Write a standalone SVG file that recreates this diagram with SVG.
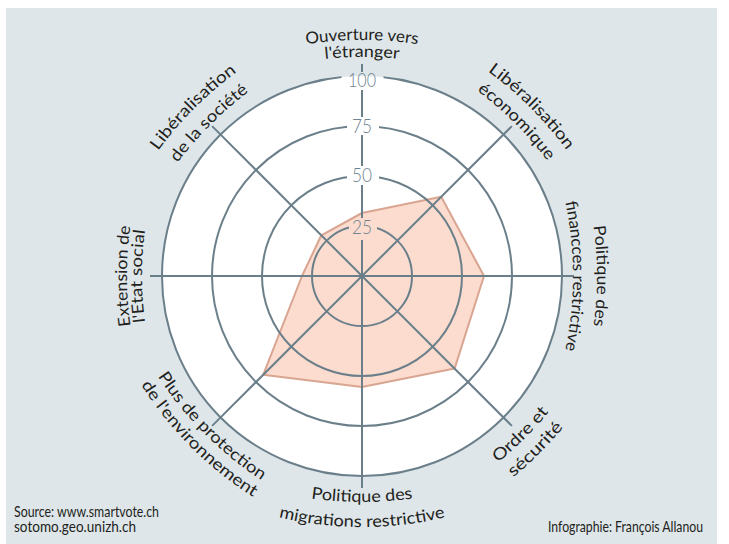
<svg xmlns="http://www.w3.org/2000/svg" width="729" height="544" viewBox="0 0 729 544">
<style>
.grid{fill:none;stroke:#6b7f8a;stroke-width:2}
.lbl{font-family:Lato,"Liberation Sans",sans-serif;font-size:16.5px;fill:#231f20}
.ring{font-family:Lato,"Liberation Sans",sans-serif;font-size:20px;font-weight:300;fill:#6f8490;text-anchor:middle}
.cred{font-family:Lato,"Liberation Sans",sans-serif;font-size:15px;fill:#231f20}
</style>
<defs>
<mask id="gm" maskUnits="userSpaceOnUse" x="0" y="0" width="729" height="544">
<rect x="0" y="0" width="729" height="544" fill="#fff"/>
<rect x="341.5" y="72" width="42" height="18" fill="#000"/>
<rect x="347" y="117" width="32" height="18" fill="#000"/>
<rect x="347" y="166" width="32" height="19" fill="#000"/>
<rect x="349" y="218" width="28" height="22" fill="#000"/>
</mask>
<path id="p1a" d="M238.87,61.71 A360,360 0 0 1 485.13,61.71"/>
<path id="p1b" d="M238.87,78.71 A360,360 0 0 1 485.13,78.71"/>
<path id="p2a" d="M427.87,36 A360,360 0 0 1 602,210.13"/>
<path id="p2b" d="M412.32,51.55 A360,360 0 0 1 586.45,225.68"/>
<path id="p3a" d="M575.29,152.87 A360,360 0 0 1 575.29,399.13"/>
<path id="p3b" d="M551.29,152.87 A360,360 0 0 1 551.29,399.13"/>
<path id="p4a" d="M422.22,510.35 A360,360 0 0 0 596.35,336.22"/>
<path id="p4b" d="M437.07,525.2 A360,360 0 0 0 611.2,351.07"/>
<path id="p5a" d="M238.87,480.29 A360,360 0 0 0 485.13,480.29"/>
<path id="p5b" d="M238.87,505.29 A360,360 0 0 0 485.13,505.29"/>
<path id="p6a" d="M132.6,331.27 A360,360 0 0 0 306.73,505.4"/>
<path id="p6b" d="M119.17,344.7 A360,360 0 0 0 293.3,518.83"/>
<path id="p7a" d="M148.71,399.13 A360,360 0 0 1 148.71,152.87"/>
<path id="p7b" d="M163.71,399.13 A360,360 0 0 1 163.71,152.87"/>
<path id="p8a" d="M122.7,210.83 A360,360 0 0 1 296.83,36.7"/>
<path id="p8b" d="M138.97,227.1 A360,360 0 0 1 313.1,52.97"/>
</defs>
<g id="background">
<rect x="0" y="0" width="729" height="544" fill="#ffffff"/>
<rect x="6" y="8" width="711" height="536" fill="#dee6ea"/>
<circle cx="362" cy="276" r="200" fill="#ffffff"/>
</g>
<g id="data">
<polygon points="362,213 441.2,196.8 484,276 454.6,368.6 362,387 263.2,374.8 302,276 321.3,235.3" fill="#fbdccf" stroke="#d9a591" stroke-width="2" stroke-linejoin="round"/>
</g>
<g id="connectors" class="grid" mask="url(#gm)">
<circle cx="362" cy="276" r="50"/>
<circle cx="362" cy="276" r="100"/>
<circle cx="362" cy="276" r="150"/>
<circle cx="362" cy="276" r="200"/>
<line x1="362" y1="64" x2="362" y2="488"/>
<line x1="150" y1="276" x2="574" y2="276"/>
<line x1="212.1" y1="126.1" x2="511.9" y2="425.9"/>
<line x1="511.9" y1="126.1" x2="212.1" y2="425.9"/>
</g>
<g id="ring-labels">
<text class="ring" x="362" y="87" textLength="28" lengthAdjust="spacingAndGlyphs">100</text>
<text class="ring" x="362" y="133" textLength="20" lengthAdjust="spacingAndGlyphs">75</text>
<text class="ring" x="362" y="182" textLength="20" lengthAdjust="spacingAndGlyphs">50</text>
<text class="ring" x="362" y="233.5" textLength="20" lengthAdjust="spacingAndGlyphs">25</text>
</g>
<g id="axis-labels">
<g id="label-ouverture">
<text class="lbl" text-anchor="middle"><textPath href="#p1a" startOffset="50%" textLength="112" lengthAdjust="spacingAndGlyphs">Ouverture vers</textPath></text>
<text class="lbl" text-anchor="middle"><textPath href="#p1b" startOffset="50%" textLength="74" lengthAdjust="spacingAndGlyphs">l'étranger</textPath></text>
</g>
<g id="label-lib-eco">
<text class="lbl" text-anchor="middle"><textPath href="#p2a" startOffset="50%" textLength="112" lengthAdjust="spacingAndGlyphs">Libéralisation</textPath></text>
<text class="lbl" text-anchor="middle"><textPath href="#p2b" startOffset="50%" textLength="100" lengthAdjust="spacingAndGlyphs">économique</textPath></text>
</g>
<g id="label-finances">
<text class="lbl" text-anchor="middle"><textPath href="#p3a" startOffset="50%" textLength="100" lengthAdjust="spacingAndGlyphs">Politique des</textPath></text>
<text class="lbl" text-anchor="middle"><textPath href="#p3b" startOffset="50%" textLength="149" lengthAdjust="spacingAndGlyphs">financces restrictive</textPath></text>
</g>
<g id="label-ordre">
<text class="lbl" text-anchor="middle"><textPath href="#p4a" startOffset="50%" textLength="72" lengthAdjust="spacingAndGlyphs">Ordre et</textPath></text>
<text class="lbl" text-anchor="middle"><textPath href="#p4b" startOffset="50%" textLength="71" lengthAdjust="spacingAndGlyphs">sécurité</textPath></text>
</g>
<g id="label-migrations">
<text class="lbl" text-anchor="middle"><textPath href="#p5a" startOffset="50%" textLength="102" lengthAdjust="spacingAndGlyphs">Politique des</textPath></text>
<text class="lbl" text-anchor="middle"><textPath href="#p5b" startOffset="50%" textLength="168" lengthAdjust="spacingAndGlyphs">migrations restrictive</textPath></text>
</g>
<g id="label-environnement">
<text class="lbl" text-anchor="middle"><textPath href="#p6a" startOffset="50%" textLength="148" lengthAdjust="spacingAndGlyphs">Plus de protection</textPath></text>
<text class="lbl" text-anchor="middle"><textPath href="#p6b" startOffset="50%" textLength="160" lengthAdjust="spacingAndGlyphs">de l'environnement</textPath></text>
</g>
<g id="label-etat-social">
<text class="lbl" text-anchor="middle"><textPath href="#p7a" startOffset="50%" textLength="100" lengthAdjust="spacingAndGlyphs">Extension de</textPath></text>
<text class="lbl" text-anchor="middle"><textPath href="#p7b" startOffset="50%" textLength="92" lengthAdjust="spacingAndGlyphs">l'Etat social</textPath></text>
</g>
<g id="label-lib-societe">
<text class="lbl" text-anchor="middle"><textPath href="#p8a" startOffset="50%" textLength="112" lengthAdjust="spacingAndGlyphs">Libéralisation</textPath></text>
<text class="lbl" text-anchor="middle"><textPath href="#p8b" startOffset="50%" textLength="101" lengthAdjust="spacingAndGlyphs">de la société</textPath></text>
</g>
</g>
<g id="credits">
<text class="cred" x="14" y="517" textLength="145" lengthAdjust="spacingAndGlyphs">Source: www.smartvote.ch</text>
<text class="cred" x="14" y="531.5" textLength="122" lengthAdjust="spacingAndGlyphs">sotomo.geo.unizh.ch</text>
<text class="cred" x="548" y="531.5" textLength="155" lengthAdjust="spacingAndGlyphs">Infographie: François Allanou</text>
</g>
</svg>
